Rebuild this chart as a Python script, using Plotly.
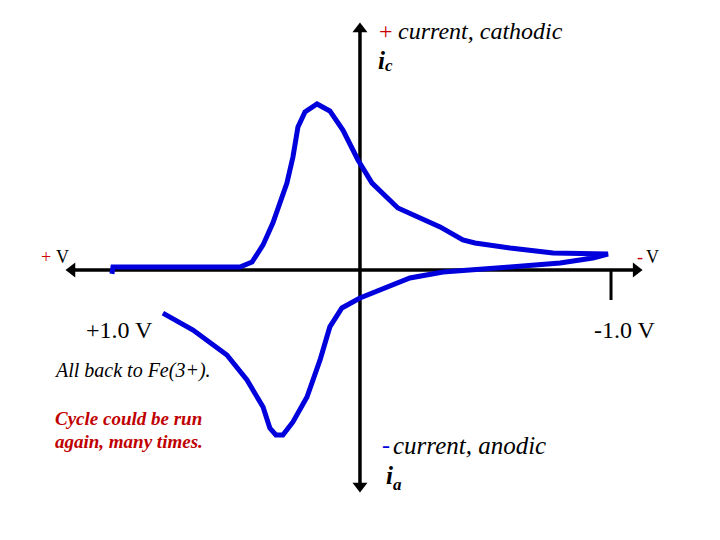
import plotly.graph_objects as go

# Cyclic voltammogram (potential in V, current normalised to cathodic peak)
potential_fwd = [0.988, 0.984, 0.478, 0.430, 0.386, 0.347, 0.291, 0.267, 0.247, 0.219,
                 0.171, 0.120, 0.068, 0.008, -0.048, -0.151, -0.319, -0.410, -0.458,
                 -0.598, -0.769, -0.928, -0.988]
current_fwd = [-0.024, 0.018, 0.018, 0.048, 0.152, 0.285, 0.527, 0.685, 0.867, 0.958,
               1.006, 0.964, 0.848, 0.667, 0.527, 0.376, 0.261, 0.182, 0.164,
               0.133, 0.103, 0.097, 0.097]
potential_rev = [-0.928, -0.797, -0.598, -0.466, -0.331, -0.199, -0.108, 0.000, 0.072,
                 0.120, 0.159, 0.211, 0.267, 0.307, 0.335, 0.359, 0.386, 0.450, 0.530,
                 0.665, 0.785]
current_rev = [0.073, 0.042, 0.018, 0.000, -0.012, -0.048, -0.103, -0.170, -0.230,
               -0.345, -0.545, -0.770, -0.921, -1.000, -1.000, -0.958, -0.830, -0.667,
               -0.515, -0.364, -0.261]

potential = potential_fwd + potential_rev
current = current_fwd + current_rev

# axis extents (drawn axes with arrowheads)
axis_e_ends = [1.147, -1.100]
axis_i_ends = [1.461, -1.309]

W, H = 720, 540
OFF = 8  # page body margin compensation
X_RANGE = [1.402, -1.466]
Y_RANGE = [-1.685, 1.588]

fig = go.Figure()
# potential axis
fig.add_trace(go.Scatter(x=axis_e_ends, y=[0, 0], mode="lines+markers",
                         line=dict(color="black", width=3.5),
                         marker=dict(symbol=["triangle-left", "triangle-right"],
                                     size=13, color="black"),
                         hoverinfo="skip", showlegend=False))
# current axis
fig.add_trace(go.Scatter(x=[0, 0], y=axis_i_ends, mode="lines+markers",
                         line=dict(color="black", width=3.5),
                         marker=dict(symbol=["triangle-up", "triangle-down"],
                                     size=13, color="black"),
                         hoverinfo="skip", showlegend=False))
# -1.0 V tick
fig.add_trace(go.Scatter(x=[-1.0, -1.0], y=[0, -0.182], mode="lines",
                         line=dict(color="black", width=3),
                         hoverinfo="skip", showlegend=False))
# CV curve
fig.add_trace(go.Scatter(x=potential, y=current, mode="lines",
                         line=dict(color="#0000dc", width=5),
                         hoverinfo="skip", showlegend=False))

serif = "Liberation Serif, Times New Roman, serif"
RED = "#cc0000"
BLUE = "#0000dc"


def px(xp):
    return (xp - OFF) / W


def py(yp):
    return 1 - (yp - OFF) / H


annotations = []


def txt(xp, yp, text, size, color="black", anchor="left", style="normal",
        weight="normal"):
    annotations.append(dict(x=px(xp), y=py(yp), xref="paper", yref="paper",
                            text=text, showarrow=False, xanchor=anchor,
                            yanchor="middle",
                            font=dict(family=serif, size=size, color=color,
                                      style=style, weight=weight)))


# top axis label
txt(377, 31, "+", 24, color=RED)
txt(396, 31, "current, cathodic", 24, style="italic")
txt(376, 60, "i", 25, style="italic", weight="bold")
txt(383, 66, "c", 17, style="italic", weight="bold")
# potential axis ends
txt(46, 257, "+", 18, color=RED, anchor="center")
txt(62, 257, "V", 18, anchor="center")
txt(640, 257, "-", 18, color=RED, anchor="center")
txt(652, 257, "V", 18, anchor="center")
# potential limits
txt(84, 330, "+1.0 V", 24)
txt(592, 330, "-1.0 V", 24)
# notes
txt(52, 370, "All back to Fe(3+).", 20, style="italic")
txt(53, 418, "Cycle could be run", 19, color="#c00000", style="italic", weight="bold")
txt(53, 441, "again, many times.", 19, color="#c00000", style="italic", weight="bold")
# bottom axis label
txt(380, 445, "-", 24, color=BLUE)
txt(391, 445, "current, anodic", 25, style="italic")
txt(384, 475, "i", 25, style="italic", weight="bold")
txt(391, 484, "a", 17, style="italic", weight="bold")

fig.update_layout(
    width=W, height=H,
    margin=dict(l=0, r=0, t=0, b=0),
    paper_bgcolor="white", plot_bgcolor="white",
    xaxis=dict(range=X_RANGE, visible=False, fixedrange=True),
    yaxis=dict(range=Y_RANGE, visible=False, fixedrange=True),
    annotations=annotations,
    showlegend=False,
)

fig.write_html("out.html")
